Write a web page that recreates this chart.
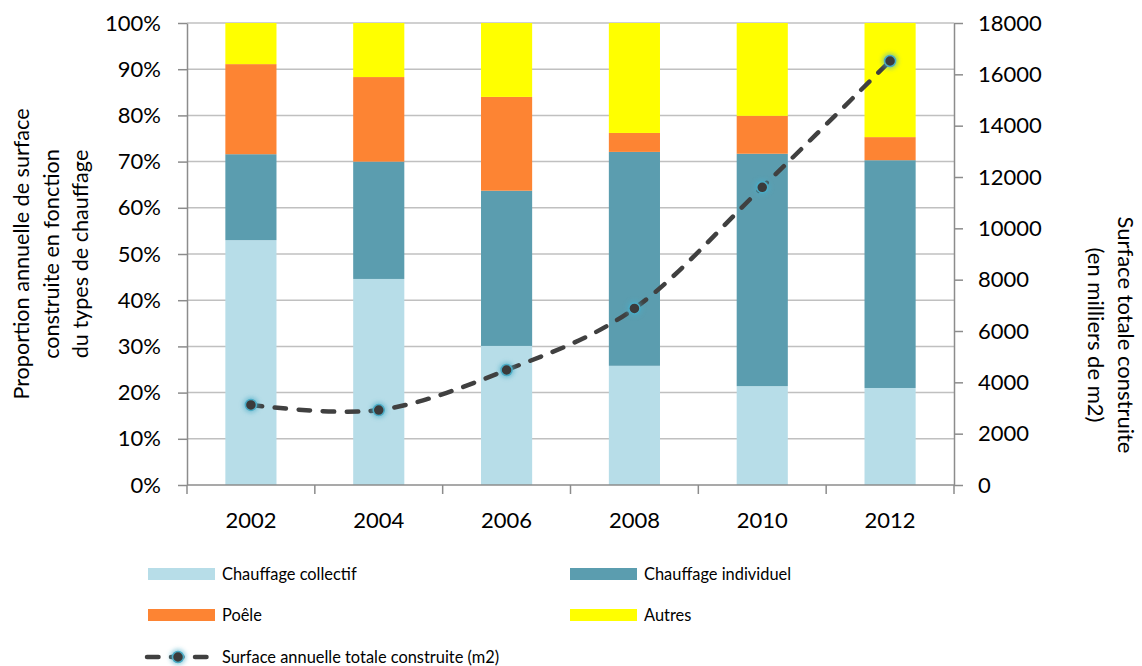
<!DOCTYPE html>
<html>
<head>
<meta charset="utf-8">
<script src="https://cdn.jsdelivr.net/npm/d3@7"></script>
<style>
  body { margin: 0; background: #fff; }
  text { font-family: Lato, "Open Sans", sans-serif; fill: #000; }
</style>
</head>
<body>
<div id="chart"></div>
<script>
// Data
const years = ["2002", "2004", "2006", "2008", "2010", "2012"];
const collectif = [53.0, 44.6, 30.1, 25.8, 21.4, 21.0];
const individuel = [18.6, 25.4, 33.6, 46.3, 50.3, 49.3];
const poele = [19.5, 18.3, 20.3, 4.1, 8.2, 5.0];
const autres = [8.9, 11.7, 16.0, 23.8, 20.1, 24.7];
const surface = [3120, 2920, 4480, 6880, 11600, 16520];
const seriesNames = ["Chauffage collectif", "Chauffage individuel", "Poêle", "Autres"];
const leftTicks = [0, 10, 20, 30, 40, 50, 60, 70, 80, 90, 100];
const rightTicks = [0, 2000, 4000, 6000, 8000, 10000, 12000, 14000, 16000, 18000];
const lineName = "Surface annuelle totale construite (m2)";

function createChart(width, height) {
  // Chart dimensions and margins
  const marginTop = 23;
  const marginLeft = 187;
  const marginRight = width - 954;
  const marginBottom = height - 485;

  const colors = ["#b7dde8", "#5b9daf", "#fd8433", "#ffff00"];
  const axisColor = "#8c8c8c";
  const gridColor = "#c0c0c0";
  const lineColor = "#404040";
  const tickFont = 22;

  const svg = d3
    .create("svg")
    .attr("width", width)
    .attr("height", height)
    .attr("viewBox", [0, 0, width, height]);

  // glow for markers
  svg
    .append("defs")
    .append("filter")
    .attr("id", "glow")
    .attr("x", "-100%").attr("y", "-100%")
    .attr("width", "300%").attr("height", "300%")
    .append("feGaussianBlur")
    .attr("stdDeviation", 2);

  const x = d3
    .scaleBand()
    .domain(years)
    .range([marginLeft, width - marginRight])
    .paddingInner(0.6)
    .paddingOuter(0.3);

  const y = d3
    .scaleLinear()
    .domain([0, 100])
    .range([height - marginBottom, marginTop]);

  const y2 = d3
    .scaleLinear()
    .domain([0, 18000])
    .range([height - marginBottom, marginTop]);

  // Gridlines
  svg
    .append("g")
    .selectAll("line")
    .data(leftTicks.slice(1))
    .join("line")
    .attr("x1", marginLeft)
    .attr("x2", width - marginRight)
    .attr("y1", (d) => y(d))
    .attr("y2", (d) => y(d))
    .attr("stroke", gridColor)
    .attr("stroke-width", 1.5);

  // Stacked bars
  const rows = years.map((yr, i) => ({
    year: yr,
    "Chauffage collectif": collectif[i],
    "Chauffage individuel": individuel[i],
    "Poêle": poele[i],
    "Autres": autres[i],
  }));
  const stacked = d3.stack().keys(seriesNames)(rows);

  svg
    .append("g")
    .selectAll("g")
    .data(stacked)
    .join("g")
    .attr("fill", (d, i) => colors[i])
    .selectAll("rect")
    .data((d) => d)
    .join("rect")
    .attr("x", (d) => x(d.data.year))
    .attr("y", (d) => y(d[1]))
    .attr("height", (d) => y(d[0]) - y(d[1]))
    .attr("width", x.bandwidth());

  // Left axis
  svg
    .append("g")
    .attr("transform", `translate(${marginLeft},0)`)
    .call(
      d3
        .axisLeft(y)
        .tickValues(leftTicks)
        .tickFormat((d) => d + "%")
        .tickSize(9)
        .tickPadding(17)
        .tickSizeOuter(0),
    )
    .call((g) => g.selectAll("line, path").attr("stroke", axisColor).attr("stroke-width", 1.5))
    .call((g) => g.selectAll("text").attr("font-size", tickFont).attr("font-family", "Lato"));

  // Right axis
  svg
    .append("g")
    .attr("transform", `translate(${width - marginRight},0)`)
    .call(
      d3
        .axisRight(y2)
        .tickValues(rightTicks)
        .tickFormat((d) => d)
        .tickSize(9)
        .tickPadding(15)
        .tickSizeOuter(0),
    )
    .call((g) => g.selectAll("line, path").attr("stroke", axisColor).attr("stroke-width", 1.5))
    .call((g) => g.selectAll("text").attr("font-size", tickFont).attr("font-family", "Lato"));

  // Bottom axis: ticks between categories
  const step = x.step();
  const xb = svg
    .append("g")
    .attr("transform", `translate(0,${height - marginBottom})`);
  xb.append("line")
    .attr("x1", marginLeft)
    .attr("x2", width - marginRight)
    .attr("stroke", axisColor)
    .attr("stroke-width", 1.5);
  xb.selectAll(".sep")
    .data(d3.range(years.length + 1))
    .join("line")
    .attr("class", "sep")
    .attr("x1", (i) => marginLeft + i * step)
    .attr("x2", (i) => marginLeft + i * step)
    .attr("y1", 0)
    .attr("y2", 9)
    .attr("stroke", axisColor)
    .attr("stroke-width", 1.5);
  xb.selectAll(".lbl")
    .data(years)
    .join("text")
    .attr("class", "lbl")
    .attr("x", (d) => x(d) + x.bandwidth() / 2)
    .attr("y", 43)
    .attr("text-anchor", "middle")
    .attr("font-size", tickFont)
    .text((d) => d);

  // Axis titles
  const leftTitle = ["Proportion annuelle de surface", "construite en fonction", "du types de chauffage"];
  svg
    .append("text")
    .attr("transform", "translate(29,254) rotate(-90)")
    .attr("text-anchor", "middle")
    .attr("font-size", 21.6)
    .selectAll("tspan")
    .data(leftTitle)
    .join("tspan")
    .attr("x", 0)
    .attr("dy", (d, i) => (i === 0 ? 0 : 29.5))
    .text((d) => d);

  const rightTitle = ["Surface totale construite", "(en milliers de m2)"];
  svg
    .append("text")
    .attr("transform", "translate(1118,335) rotate(90)")
    .attr("text-anchor", "middle")
    .attr("font-size", 22)
    .selectAll("tspan")
    .data(rightTitle)
    .join("tspan")
    .attr("x", 0)
    .attr("dy", (d, i) => (i === 0 ? 0 : 30))
    .text((d) => d);

  // Line series (smoothed, dashed)
  const pts = years.map((yr, i) => ({ year: yr, value: surface[i] }));
  const line = d3
    .line()
    .curve(d3.curveCardinal.tension(0))
    .x((d) => x(d.year) + x.bandwidth() / 2)
    .y((d) => y2(d.value));

  svg
    .append("path")
    .datum(pts)
    .attr("fill", "none")
    .attr("stroke", lineColor)
    .attr("stroke-width", 4.5)
    .attr("stroke-linecap", "round")
    .attr("stroke-dasharray", "11.5,12.5")
    .attr("d", line);

  function marker(g, cx, cy) {
    g.append("circle")
      .attr("cx", cx).attr("cy", cy).attr("r", 8)
      .attr("fill", "#4bacc6").attr("opacity", 0.55)
      .attr("filter", "url(#glow)");
    g.append("circle")
      .attr("cx", cx).attr("cy", cy).attr("r", 5.5)
      .attr("fill", "#3b3b3b")
      .attr("stroke", "#4bacc6")
      .attr("stroke-width", 1.5);
  }

  const markers = svg.append("g");
  pts.forEach((d) => marker(markers, x(d.year) + x.bandwidth() / 2, y2(d.value)));

  // Legend
  const legend = svg.append("g");
  const legendPos = [
    [148, 574],
    [570, 574],
    [148, 615],
    [570, 615],
  ];
  seriesNames.forEach((name, i) => {
    const [lx, ly] = legendPos[i];
    legend.append("rect")
      .attr("x", lx).attr("y", ly - 6)
      .attr("width", 67).attr("height", 12)
      .attr("fill", colors[i]);
    legend.append("text")
      .attr("x", lx + 74).attr("y", ly)
      .attr("dy", "0.35em")
      .attr("font-size", 16.4)
      .text(name);
  });

  const ly3 = 657;
  legend.append("line")
    .attr("x1", 147).attr("x2", 208)
    .attr("y1", ly3).attr("y2", ly3)
    .attr("stroke", lineColor)
    .attr("stroke-width", 4.5)
    .attr("stroke-linecap", "round")
    .attr("stroke-dasharray", "11.5,12.5");
  marker(legend, 178, ly3);
  legend.append("text")
    .attr("x", 222).attr("y", ly3)
    .attr("dy", "0.35em")
    .attr("font-size", 16.4)
    .text(lineName);

  return svg.node();
}

document.getElementById("chart").appendChild(createChart(1142, 666));
</script>
</body>
</html>
